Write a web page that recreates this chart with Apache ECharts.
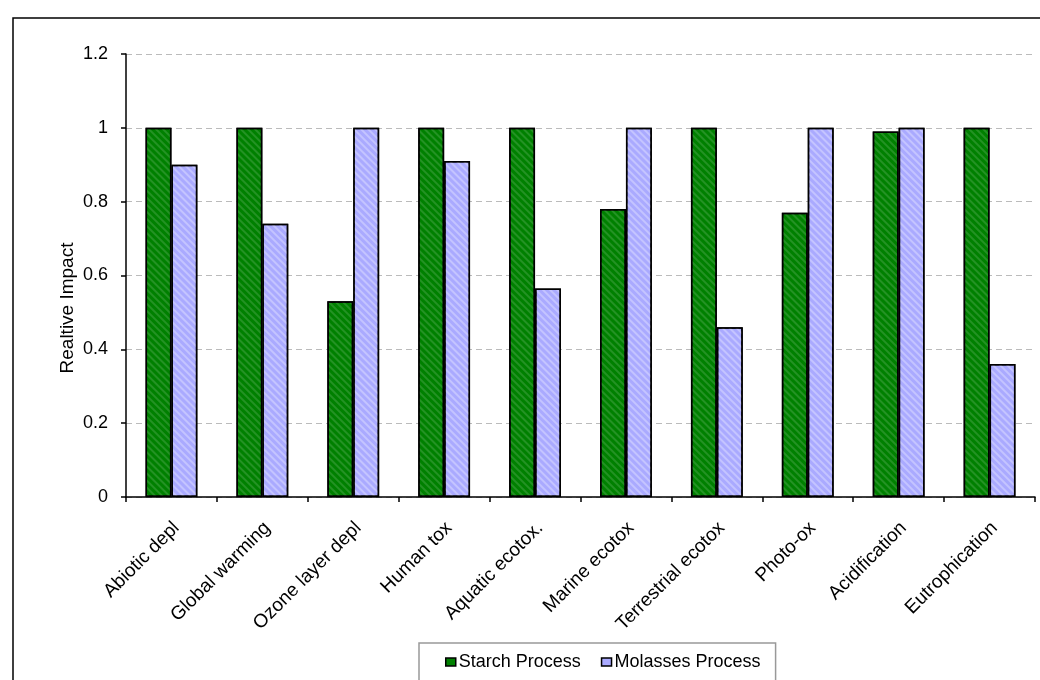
<!DOCTYPE html>
<html>
<head>
<meta charset="utf-8">
<script src="https://cdn.jsdelivr.net/npm/echarts@6/dist/echarts.min.js"></script>
<style>
html,body{margin:0;padding:0;background:#fff;}
#chart{width:1040px;height:680px;}
</style>
</head>
<body>
<div id="chart"></div>
<script>
const categories = ['Abiotic depl','Global warming','Ozone layer depl','Human tox','Aquatic ecotox.','Marine ecotox','Terrestrial ecotox','Photo-ox','Acidification','Eutrophication'];
const starch = [1, 1, 0.53, 1, 1, 0.78, 1, 0.77, 0.99, 1];
const molasses = [0.90, 0.74, 1, 0.91, 0.565, 1, 0.46, 1, 1, 0.36];
const yTicks = [0, 0.2, 0.4, 0.6, 0.8, 1, 1.2];
const yTitle = 'Realtive Impact';

const FONT = '"Liberation Sans", Arial, sans-serif';
const chart = echarts.init(document.getElementById('chart'));

function decal(c){
  return {
    symbol: 'rect',
    symbolSize: 1,
    color: c,
    dashArrayX: [1, 0],
    dashArrayY: [2, 3],
    rotation: Math.PI / 4
  };
}

chart.setOption({
  animation: false,
  textStyle: { fontFamily: FONT },
  graphic: [{
    type: 'rect',
    shape: { x: 13, y: 18, width: 1060, height: 720 },
    style: { fill: 'none', stroke: '#000', lineWidth: 1.5 },
    silent: true
  }, {
    type: 'text',
    x: 68, y: 308,
    rotation: Math.PI / 2,
    style: { text: yTitle, fontSize: 19, fontFamily: FONT, fill: '#000', align: 'center', verticalAlign: 'middle' },
    silent: true
  }],
  grid: { left: 126, top: 54, right: 5, bottom: 183, containLabel: false },
  legend: {
    left: 419, top: 643,
    padding: [10, 15, 30, 26],
    borderColor: '#999', borderWidth: 1.5,
    itemWidth: 10, itemHeight: 8, itemGap: 20,
    icon: 'rect',
    textStyle: { fontSize: 18, color: '#000', fontFamily: FONT, padding: [0, 0, 0, -2] },
    itemStyle: { borderColor: '#000', borderWidth: 1.5, decal: 'none' },
    data: ['Starch Process', 'Molasses Process']
  },
  xAxis: {
    type: 'category',
    data: categories,
    axisLine: { lineStyle: { color: '#000', width: 1.5 } },
    axisTick: { show: true, length: 5, lineStyle: { color: '#000', width: 1.5 } },
    axisLabel: { rotate: 45, fontSize: 19, color: '#000', margin: 33, padding: [0, -7, 0, 0], fontFamily: FONT, interval: 0 },
    splitLine: { show: false }
  },
  yAxis: {
    type: 'value',
    min: 0, max: 1.2, interval: 0.2,
    axisLine: { show: true, lineStyle: { color: '#000', width: 1.5 } },
    axisTick: { show: true, length: 5, lineStyle: { color: '#000', width: 1.5 } },
    axisLabel: {
      fontSize: 18, color: '#000', margin: 18, fontFamily: FONT,
      formatter: v => { const t = yTicks.find(x => Math.abs(x - v) < 1e-9); return t === undefined ? '' : String(t); }
    },
    splitLine: { show: true, lineStyle: { color: '#bbb', type: [6, 4], width: 1.2 } }
  },
  series: [
    {
      name: 'Starch Process', type: 'bar', data: starch,
      barGap: '0%', barCategoryGap: '43%',
      itemStyle: { color: '#008000', borderColor: '#000', borderWidth: 1.5, decal: decal('rgba(255,255,255,0.14)') }
    },
    {
      name: 'Molasses Process', type: 'bar', data: molasses,
      barGap: '0%', barCategoryGap: '43%',
      itemStyle: { color: '#aaaaff', borderColor: '#000', borderWidth: 1.5, decal: decal('rgba(255,255,255,0.3)') }
    }
  ]
});
</script>
</body>
</html>
